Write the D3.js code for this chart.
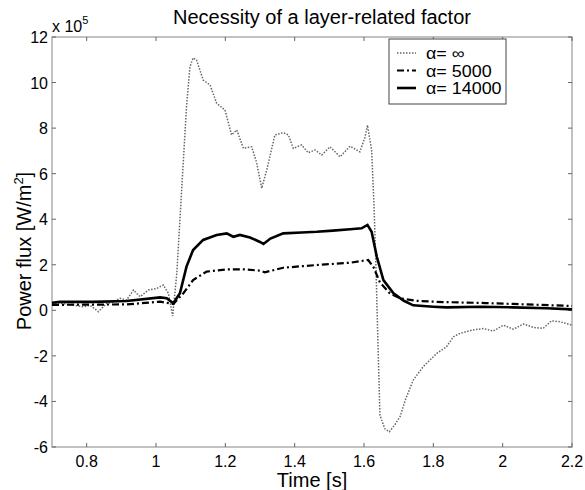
<!DOCTYPE html>
<html>
<head>
<meta charset="utf-8">
<script src="https://cdn.jsdelivr.net/npm/d3@7"></script>
<style>
  body { margin: 0; background: #fff; }
  text { font-family: "Liberation Sans", Arial, sans-serif; fill: #000; }
</style>
</head>
<body>
<div id="chart"></div>
<script>
// time [s] and power flux [x 10^5 W/m^2]
var timeInf = [0.70, 0.72, 0.75, 0.79, 0.81, 0.834, 0.858, 0.875, 0.896, 0.915, 0.935, 0.954, 0.978, 1.002, 1.021, 1.036, 1.048, 1.060, 1.074, 1.088, 1.098, 1.107, 1.117, 1.136, 1.156, 1.175, 1.199, 1.218, 1.233, 1.252, 1.276, 1.290, 1.305, 1.320, 1.343, 1.367, 1.382, 1.396, 1.420, 1.439, 1.459, 1.478, 1.502, 1.531, 1.560, 1.588, 1.603, 1.610, 1.622, 1.629, 1.635, 1.640, 1.646, 1.660, 1.673, 1.690, 1.704, 1.720, 1.742, 1.771, 1.810, 1.838, 1.858, 1.877, 1.915, 1.945, 1.973, 2.002, 2.031, 2.060, 2.088, 2.117, 2.141, 2.165, 2.200];
var fluxInf = [0.30, 0.33, 0.25, 0.16, 0.22, -0.06, 0.31, 0.35, 0.53, 0.45, 0.89, 0.60, 0.89, 0.96, 1.11, 0.74, -0.25, 1.62, 5.28, 8.94, 10.7, 11.08, 10.99, 10.11, 9.89, 9.09, 8.79, 7.70, 7.92, 7.11, 7.18, 6.5, 5.36, 6.2, 7.70, 7.80, 7.70, 7.11, 7.26, 6.92, 7.04, 6.82, 7.18, 6.74, 7.21, 6.96, 7.6, 8.13, 7.04, 4.55, 1.64, -1.3, -4.6, -5.2, -5.33, -5.0, -4.67, -3.9, -3.06, -2.47, -1.89, -1.6, -1.16, -1.01, -0.86, -0.8, -0.91, -0.65, -0.83, -0.60, -0.75, -0.79, -0.46, -0.50, -0.65];

var time5000 = [0.70, 0.80, 0.915, 1.012, 1.05, 1.079, 1.107, 1.146, 1.204, 1.252, 1.30, 1.314, 1.367, 1.464, 1.56, 1.612, 1.627, 1.646, 1.675, 1.704, 1.75, 1.80, 1.838, 1.95, 2.03, 2.20];
var flux5000 = [0.24, 0.25, 0.26, 0.38, 0.28, 0.75, 1.33, 1.70, 1.80, 1.80, 1.74, 1.67, 1.87, 1.99, 2.09, 2.21, 1.91, 1.22, 0.74, 0.53, 0.42, 0.38, 0.36, 0.32, 0.28, 0.19];

var time14000 = [0.70, 0.723, 0.819, 0.915, 1.012, 1.031, 1.05, 1.069, 1.088, 1.107, 1.136, 1.175, 1.204, 1.223, 1.242, 1.271, 1.30, 1.31, 1.33, 1.367, 1.42, 1.464, 1.51, 1.56, 1.593, 1.61, 1.622, 1.637, 1.656, 1.685, 1.715, 1.742, 1.80, 1.838, 1.935, 2.03, 2.127, 2.20];
var flux14000 = [0.33, 0.37, 0.37, 0.41, 0.57, 0.53, 0.31, 0.75, 1.92, 2.65, 3.09, 3.31, 3.38, 3.23, 3.31, 3.2, 3.0, 2.91, 3.15, 3.38, 3.42, 3.45, 3.5, 3.56, 3.6, 3.75, 3.45, 2.35, 1.33, 0.75, 0.42, 0.22, 0.16, 0.13, 0.16, 0.13, 0.09, 0.04];

var xTicks = [0.8, 1, 1.2, 1.4, 1.6, 1.8, 2, 2.2];
var yTicks = [-6, -4, -2, 0, 2, 4, 6, 8, 10, 12];
var legendLabels = ["\u03b1= \u221e", "\u03b1= 5000", "\u03b1= 14000"];

var width = 585, height = 490;
var margin = {top: 37, right: 13, bottom: 43, left: 52};

var svg = d3.select("#chart").append("svg")
    .attr("width", width)
    .attr("height", height);

var x = d3.scaleLinear().domain([0.7, 2.2]).range([margin.left, width - margin.right]);
var y = d3.scaleLinear().domain([-6, 12]).range([height - margin.bottom, margin.top]);

// box
svg.append("rect")
    .attr("x", x(0.7)).attr("y", y(12))
    .attr("width", x(2.2) - x(0.7)).attr("height", y(-6) - y(12))
    .attr("fill", "none").attr("stroke", "#999").attr("stroke-width", 1.2);

var tickLen = 4;
var gx = svg.append("g");
xTicks.forEach(function(t) {
    gx.append("line").attr("x1", x(t)).attr("x2", x(t))
        .attr("y1", y(-6)).attr("y2", y(-6) - tickLen).attr("stroke", "#666");
    gx.append("line").attr("x1", x(t)).attr("x2", x(t))
        .attr("y1", y(12)).attr("y2", y(12) + tickLen).attr("stroke", "#666");
    gx.append("text").attr("x", x(t)).attr("y", 467)
        .attr("text-anchor", "middle").style("font-size", "16px")
        .text(t);
});

var gy = svg.append("g");
yTicks.forEach(function(v) {
    gy.append("line").attr("x1", x(0.7)).attr("x2", x(0.7) + tickLen)
        .attr("y1", y(v)).attr("y2", y(v)).attr("stroke", "#666");
    gy.append("line").attr("x1", x(2.2)).attr("x2", x(2.2) - tickLen)
        .attr("y1", y(v)).attr("y2", y(v)).attr("stroke", "#666");
    gy.append("text").attr("x", 48).attr("y", y(v) + 6)
        .attr("text-anchor", "end").style("font-size", "16px")
        .text(v);
});

// exponent
var expo = svg.append("text").attr("x", 52).attr("y", 32).style("font-size", "16px");
expo.append("tspan").text("x 10");
expo.append("tspan").attr("dy", -8).style("font-size", "11px").text("5");

// curves
var line = d3.line()
    .x(function(d) { return x(d[0]); })
    .y(function(d) { return y(d[1]); });

var series = [
    {t: timeInf, v: fluxInf, color: "#666", width: 1.5, dash: "1.5,1.5"},
    {t: time5000, v: flux5000, color: "#000", width: 2.2, dash: "7,3,2,3"},
    {t: time14000, v: flux14000, color: "#000", width: 2.6, dash: null}
];

series.forEach(function(s) {
    svg.append("path")
        .datum(d3.zip(s.t, s.v))
        .attr("d", line)
        .attr("fill", "none")
        .attr("stroke", s.color)
        .attr("stroke-width", s.width)
        .attr("stroke-dasharray", s.dash);
});

// legend
var lg = svg.append("g");
lg.append("rect").attr("x", 389).attr("y", 39).attr("width", 117).attr("height", 65)
    .attr("fill", "#fff").attr("stroke", "#444").attr("stroke-width", 1);
series.forEach(function(s, i) {
    var ly = 53 + i * 17.5;
    lg.append("line").attr("x1", 397).attr("x2", 416).attr("y1", ly).attr("y2", ly)
        .attr("stroke", s.color).attr("stroke-width", s.width)
        .attr("stroke-dasharray", s.dash);
    lg.append("text").attr("transform", "translate(426," + (ly + 6) + ") scale(1.12,1)")
        .style("font-size", "16px").text(legendLabels[i]);
});

// titles
svg.append("text").attr("x", 322).attr("y", 24)
    .attr("text-anchor", "middle").style("font-size", "20px")
    .text("Necessity of a layer-related factor");

svg.append("text").attr("x", 312).attr("y", 487)
    .attr("text-anchor", "middle").style("font-size", "20px")
    .text("Time [s]");

var yl = svg.append("text")
    .attr("transform", "translate(31," + 251 + ") rotate(-90)")
    .attr("text-anchor", "middle").style("font-size", "20px");
yl.append("tspan").text("Power flux [W/m");
yl.append("tspan").attr("dy", -8).style("font-size", "13px").text("2");
yl.append("tspan").attr("dy", 8).text("]");
</script>
</body>
</html>
